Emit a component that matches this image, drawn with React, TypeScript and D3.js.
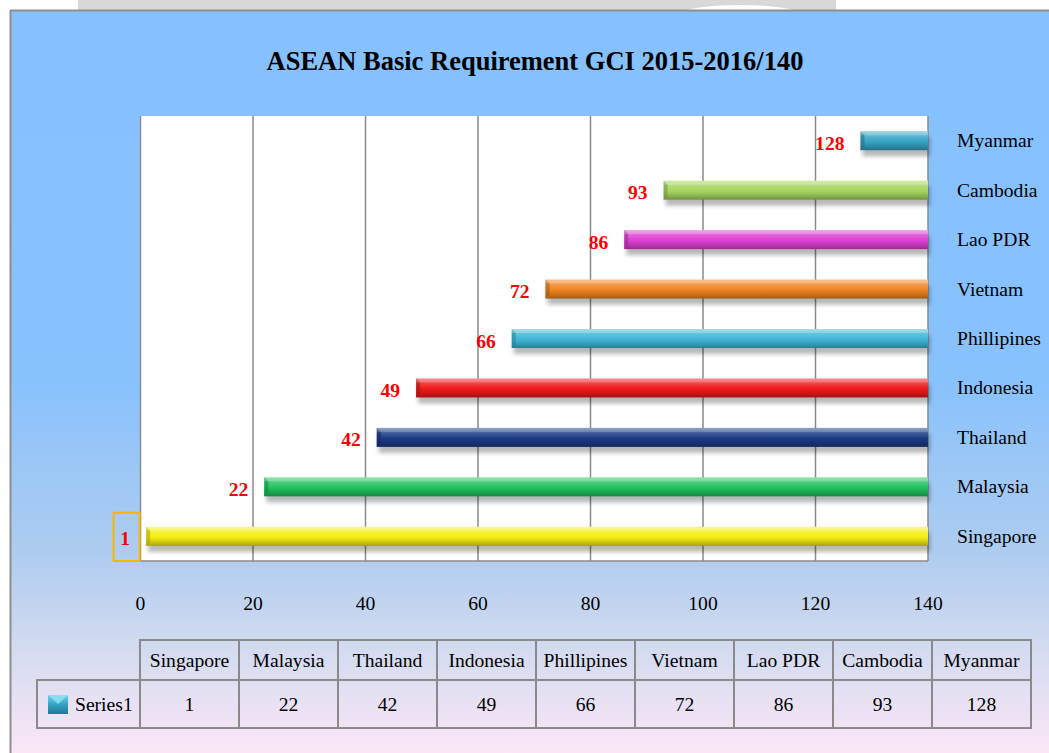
import React from "react";
import * as d3 from "d3";

const categories = ["Singapore", "Malaysia", "Thailand", "Indonesia", "Phillipines", "Vietnam", "Lao PDR", "Cambodia", "Myanmar"];
const values = [1, 22, 42, 49, 66, 72, 86, 93, 128];
const barColors = ["#F5EE12", "#1FC35E", "#1B3A85", "#EE1A1A", "#3FB6D6", "#EF8420", "#DE3FD2", "#A5D65E", "#36A3C4"];
const ticks = [0, 20, 40, 60, 80, 100, 120, 140];
const seriesName = "Series1";
const title = "ASEAN Basic Requirement GCI 2015-2016/140";

const W = 1049, H = 753;
const plot = { left: 140.5, right: 928, top: 116, bottom: 561 };
const FONT = "'Liberation Serif', 'Times New Roman', serif";
const FS = 19.6;

export default function App() {
  const x = d3.scaleLinear().domain([0, 140]).range([plot.left, plot.right]);
  const y = d3.scaleBand<string>().domain(categories.slice().reverse()).range([plot.top, plot.bottom]);
  const col = d3.scaleBand<string>().domain(categories).range([140, 1031]);
  const barH = 19;
  const tableTop = 640, rowMid = 680, tableBottom = 728, legendLeft = 37;

  return (
    <div style={{ position: "absolute", left: 0, top: 0 }}>
      <svg width={W} height={H} style={{ display: "block" }} fontFamily={FONT}>
        <defs>
          <linearGradient id="bg" x1="0" y1="0" x2="0" y2="1">
            <stop offset="0" stopColor="#85C1FF" />
            <stop offset="0.5" stopColor="#88C2FD" />
            <stop offset="0.73" stopColor="#AECCEF" />
            <stop offset="0.86" stopColor="#D3DBF0" />
            <stop offset="1" stopColor="#FBE7F6" />
          </linearGradient>
          {barColors.map((c, i) => {
            const base = d3.color(c)!;
            return (
              <linearGradient key={i} id={`bar${i}`} x1="0" y1="0" x2="0" y2="1">
                <stop offset="0" stopColor={d3.interpolateRgb(c, "#ffffff")(0.4)} />
                <stop offset="0.3" stopColor={d3.interpolateRgb(c, "#ffffff")(0.15)} />
                <stop offset="0.55" stopColor={c} />
                <stop offset="0.85" stopColor={base.darker(0.6).formatHex()} />
                <stop offset="1" stopColor={base.darker(1.1).formatHex()} />
              </linearGradient>
            );
          })}
          <linearGradient id="legendGrad" x1="0" y1="0" x2="0" y2="1">
            <stop offset="0" stopColor="#6FD3EC" />
            <stop offset="0.5" stopColor="#36A3C4" />
            <stop offset="1" stopColor="#1F7893" />
          </linearGradient>
          <filter id="shadow" x="-5%" y="-50%" width="110%" height="200%">
            <feGaussianBlur stdDeviation="2.2" />
          </filter>
        </defs>

        {/* page strip above chart */}
        <rect x={0} y={0} width={W} height={10} fill="#ffffff" />
        <rect x={78} y={0} width={758} height={10} fill="#D8D8D8" />
        <ellipse cx={740} cy={15} rx={62} ry={10} fill="#ffffff" />

        {/* chart area background */}
        <rect x={10} y={10} width={W - 10} height={H - 10} fill="url(#bg)" />
        <line x1={10} x2={W} y1={10.5} y2={10.5} stroke="#8E8E8E" strokeWidth={2} />
        <line x1={10.5} x2={10.5} y1={10} y2={H} stroke="#8E8E8E" strokeWidth={2} />

        <text x={535} y={70} textAnchor="middle" fontSize={26.5} fontWeight="bold" fill="#000">{title}</text>

        {/* plot area */}
        <rect x={plot.left} y={plot.top} width={plot.right - plot.left} height={plot.bottom - plot.top} fill="#ffffff" />
        {ticks.map((t) => (
          <line key={t} x1={x(t)} x2={x(t)} y1={plot.top} y2={plot.bottom} stroke="#8A8A8A" strokeWidth={1.5} />
        ))}
        <line x1={plot.left} x2={plot.right} y1={plot.bottom} y2={plot.bottom} stroke="#8A8A8A" strokeWidth={1.5} />

        {/* bars */}
        {categories.map((c, i) => {
          const cy = y(c)! + y.bandwidth() / 2;
          const x0 = x(values[i]);
          const x1 = x(140);
          const top = cy - barH / 2;
          const dark = d3.color(barColors[i])!.darker(1.1).formatHex();
          return (
            <g key={c}>
              <rect x={x0 + 2} y={top + 6} width={x1 - x0} height={barH} fill="#000" opacity={0.28} filter="url(#shadow)" />
              <rect x={x0} y={top} width={x1 - x0} height={barH} fill={`url(#bar${i})`} />
              <polygon points={`${x0},${top} ${x0 + 4},${top + 4} ${x0 + 4},${top + barH - 3} ${x0},${top + barH}`} fill={dark} opacity={0.55} />
              <rect x={x0} y={top} width={x1 - x0} height={4} fill="#ffffff" opacity={0.2} />
            </g>
          );
        })}

        {/* value labels */}
        {categories.map((c, i) => {
          const cy = y(c)! + y.bandwidth() / 2;
          return (
            <text key={c} x={x(values[i]) - 16} y={cy + 9} textAnchor="end" fontSize={FS} fontWeight="bold" fill="#FF0000">{values[i]}</text>
          );
        })}
        {/* selection box around first label */}
        <rect x={x(values[0]) - 32.5} y={y(categories[0])! + y.bandwidth() / 2 - 23.5} width={26} height={plot.bottom - (y(categories[0])! + y.bandwidth() / 2 - 23.5)} fill="none" stroke="#F5B800" strokeWidth={2} />

        {/* category labels */}
        {categories.map((c) => (
          <text key={c} x={957} y={y(c)! + y.bandwidth() / 2 + 6.5} fontSize={FS} fill="#000">{c}</text>
        ))}

        {/* x tick labels */}
        {ticks.map((t) => (
          <text key={t} x={x(t)} y={610} textAnchor="middle" fontSize={FS} fill="#000">{t}</text>
        ))}

        {/* data table */}
        <g stroke="#8A8A8A" strokeWidth={2} fill="none">
          <rect x={140} y={tableTop} width={1031 - 140} height={tableBottom - tableTop} />
          <rect x={legendLeft} y={rowMid} width={140 - legendLeft} height={tableBottom - rowMid} />
          <line x1={140} x2={1031} y1={rowMid} y2={rowMid} />
          {categories.slice(1).map((c) => (
            <line key={c} x1={col(c)!} x2={col(c)!} y1={tableTop} y2={tableBottom} />
          ))}
        </g>
        {categories.map((c, i) => (
          <g key={c}>
            <text x={col(c)! + col.bandwidth() / 2} y={667} textAnchor="middle" fontSize={FS} fill="#000">{c}</text>
            <text x={col(c)! + col.bandwidth() / 2} y={711} textAnchor="middle" fontSize={FS} fill="#000">{values[i]}</text>
          </g>
        ))}
        <rect x={48} y={695} width={20} height={19} fill="url(#legendGrad)" />
        <polygon points="48,695 68,695 58,704" fill="#8FE3F5" opacity={0.8} />
        <text x={75} y={711} fontSize={FS} fill="#000">{seriesName}</text>
      </svg>
    </div>
  );
}
